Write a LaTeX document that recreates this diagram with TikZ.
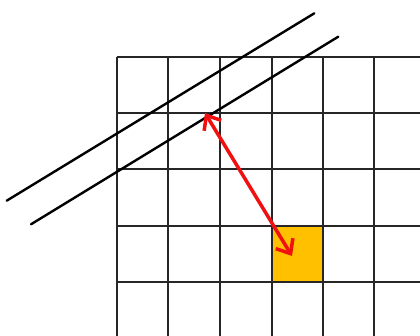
\documentclass[tikz,border=0pt]{standalone}
\usetikzlibrary{arrows.meta}
\definecolor{cellorange}{HTML}{FFC000}
\definecolor{arrowred}{HTML}{F01010}
\tikzset{
  gridline/.style={line width=2pt, draw=black!85},
  slant/.style={line width=2.4pt, draw=black, line cap=round},
  dist/.style={line width=3.5pt, draw=arrowred, {Straight Barb[length=12pt,width=20pt,line width=3.5pt]}-{Straight Barb[length=12pt,width=20pt,line width=3.5pt]}}
}
\begin{document}
\begin{tikzpicture}[x=1pt,y=-1pt]
\useasboundingbox (0,0) rectangle (420,336);
\fill[cellorange] (271.7,226) rectangle (322.7,282);
% vertical grid lines
\foreach \x in {116.7,168.1,219.5,271.7,322.7,374} \draw[gridline] (\x,57.3) -- (\x,336);
% horizontal grid lines
\foreach \y in {57.3,113.5,169.5,226,282} \draw[gridline] (116.7,\y) -- (420,\y);
% slanted parallel lines
\coordinate (l1a) at (6.7,200.7);
\coordinate (l1b) at (314.3,13.3);
\coordinate (l2a) at (31,224.3);
\coordinate (l2b) at (338.3,36.7);
\draw[slant] (l1a) -- (l1b);
\draw[slant] (l2a) -- (l2b);
% distance arrow
\coordinate (A) at (205,113);
\coordinate (B) at (292,256);
\draw[dist] (A) -- (B);
\end{tikzpicture}
\end{document}
